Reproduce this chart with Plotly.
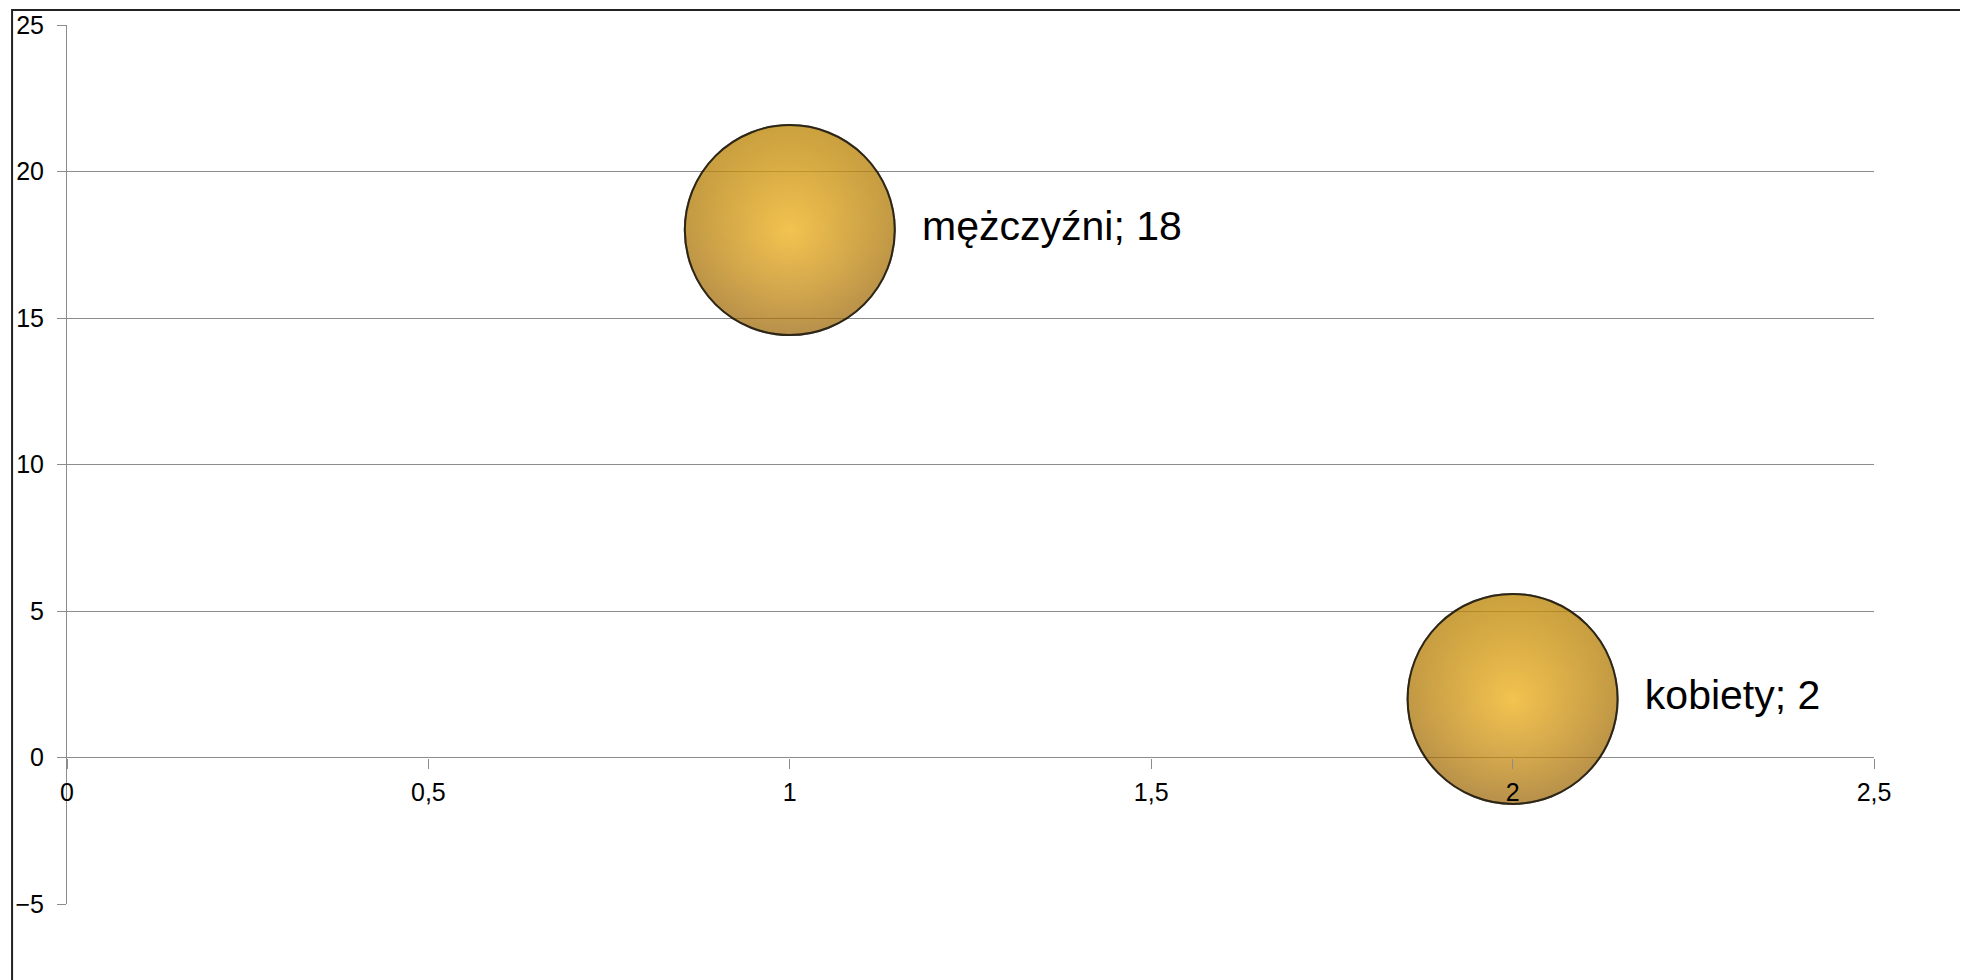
import plotly.graph_objects as go

# dane
kategorie = ["mężczyźni", "kobiety"]
x_vals = [1, 2]
y_vals = [18, 2]
rozmiar = [1, 1]

etykiety = [k + "; " + str(v) for k, v in zip(kategorie, y_vals)]

szary = "#8c8c8c"
czcionka = "Liberation Sans, Arial, sans-serif"

fig = go.Figure()
# kula - podstawa (gradient radialny: srodek jasny, brzeg ciemny)
fig.add_trace(go.Scatter(
    x=x_vals, y=y_vals,
    mode="markers",
    marker=dict(size=rozmiar, sizemode="diameter", sizeref=1 / 210,
                color="#9a6200",
                gradient=dict(type="radial", color="#EDA812"),
                line=dict(width=2, color="#1a1200")),
    showlegend=False, hoverinfo="skip",
))
# odblask u gory
fig.add_trace(go.Scatter(
    x=x_vals, y=y_vals,
    mode="markers+text",
    text=etykiety,
    textposition="middle right",
    textfont=dict(family=czcionka, size=41, color="black"),
    marker=dict(size=rozmiar, sizemode="diameter", sizeref=1 / 210,
                color="rgba(255,205,30,0.4)",
                gradient=dict(type="vertical", color="rgba(255,205,30,0)"),
                line=dict(width=2, color="#1a1200")),
    showlegend=False, hoverinfo="skip",
))

fig.update_layout(
    width=1960, height=972,
    margin=dict(l=59, r=94, t=17, b=76, autoexpand=False),
    paper_bgcolor="white",
    plot_bgcolor="white",
    separators=", ",
    font=dict(family=czcionka, size=25, color="black"),
    xaxis=dict(range=[0, 2.5], dtick=0.5, tick0=0,
               showgrid=False, zeroline=False, showline=False,
               ticks="outside", ticklen=10, tickcolor=szary, tickwidth=1,
               anchor="free", position=1 / 6,
               ticklabelstandoff=2,
               tickfont=dict(size=25)),
    yaxis=dict(range=[-5, 25], dtick=5, tick0=0,
               showgrid=True, gridcolor=szary, gridwidth=1,
               zeroline=False, showline=True, linecolor=szary, linewidth=1,
               ticks="outside", ticklen=9, tickcolor=szary, tickwidth=1,
               ticklabelstandoff=8,
               tickfont=dict(size=25)),
)

# ramka wykresu
fig.add_shape(type="rect", xref="paper", yref="paper",
              x0=-0.0304, x1=1.2, y0=-0.3, y1=1.017,
              line=dict(color="#222222", width=2), fillcolor="rgba(0,0,0,0)",
              layer="above")

fig.write_html("out.html")
